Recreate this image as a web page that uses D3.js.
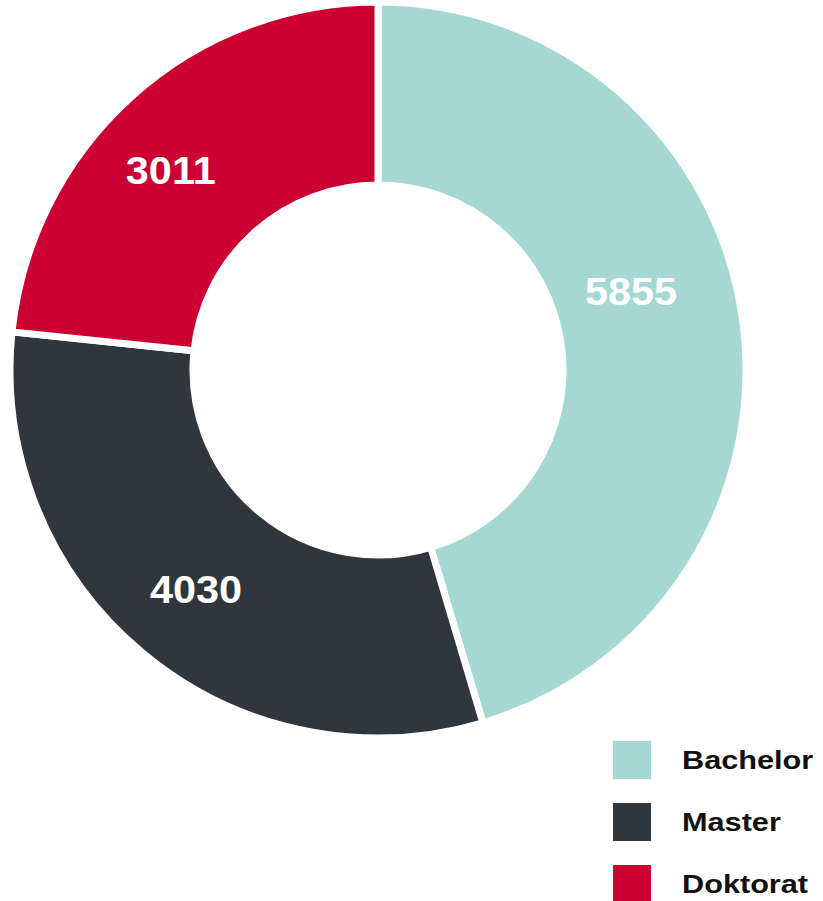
<!DOCTYPE html>
<html>
<head>
<meta charset="utf-8">
<script src="https://cdn.jsdelivr.net/npm/d3@7"></script>
<style>
  body { margin: 0; background: #fff; }
  svg { display: block; font-family: "Liberation Sans", Arial, sans-serif; }
</style>
</head>
<body>
<div id="chart"></div>
<script>
// data
const categories = ["Bachelor", "Master", "Doktorat"];
const values = [5855, 4030, 3011];
const colors = ["#a6d8d3", "#2f373d", "#cc0033"];

const width = 823, height = 901;
const cx = 378, cy = 370;
const outerR = 368, innerR = 185;

const svg = d3.select("#chart")
  .append("svg")
    .attr("width", width)
    .attr("height", height);

const g = svg.append("g")
  .attr("transform", `translate(${cx},${cy})`);

const pie = d3.pie().sort(null).value(d => d.value);
const arcs = pie(categories.map((c, i) => ({ name: c, value: values[i], color: colors[i] })));

const arc = d3.arc().innerRadius(innerR).outerRadius(outerR);

g.selectAll("path")
  .data(arcs)
  .join("path")
    .attr("d", arc)
    .attr("fill", d => d.data.color)
    .attr("stroke", "#fff")
    .attr("stroke-width", 7)
    .attr("stroke-linejoin", "miter");

// labels (bachelor one sits a bit higher up in the original)
// the original font is a wide grotesque, so stretch the text a little
const labelNudge = { Bachelor: [-9, 265], Master: [0, 285], Doktorat: [-4, 288] };
g.selectAll("text.val")
  .data(arcs)
  .join("text")
    .attr("class", "val")
    .attr("transform", d => {
      const [da, r] = labelNudge[d.data.name];
      const a = (d.startAngle + d.endAngle) / 2 + da * Math.PI / 180;
      return `translate(${r * Math.sin(a)},${-r * Math.cos(a)}) scale(1.09,1)`;
    })
    .attr("text-anchor", "middle")
    .attr("dy", "0.36em")
    .attr("fill", "#fff")
    .style("font-size", "38px")
    .style("font-weight", "bold")
    .text(d => d.data.value);

// legend
const legend = svg.append("g")
  .attr("transform", "translate(613,741)");

const row = legend.selectAll("g")
  .data(categories)
  .join("g")
    .attr("transform", (d, i) => `translate(0,${i * 62})`);

row.append("rect")
  .attr("width", 38)
  .attr("height", 38)
  .attr("fill", (d, i) => colors[i]);

row.append("text")
  .attr("transform", "translate(69,19) scale(1.18,1)")
  .attr("dy", "0.36em")
  .attr("fill", "#111")
  .style("font-size", "26px")
  .style("font-weight", "bold")
  .text(d => d);
</script>
</body>
</html>
